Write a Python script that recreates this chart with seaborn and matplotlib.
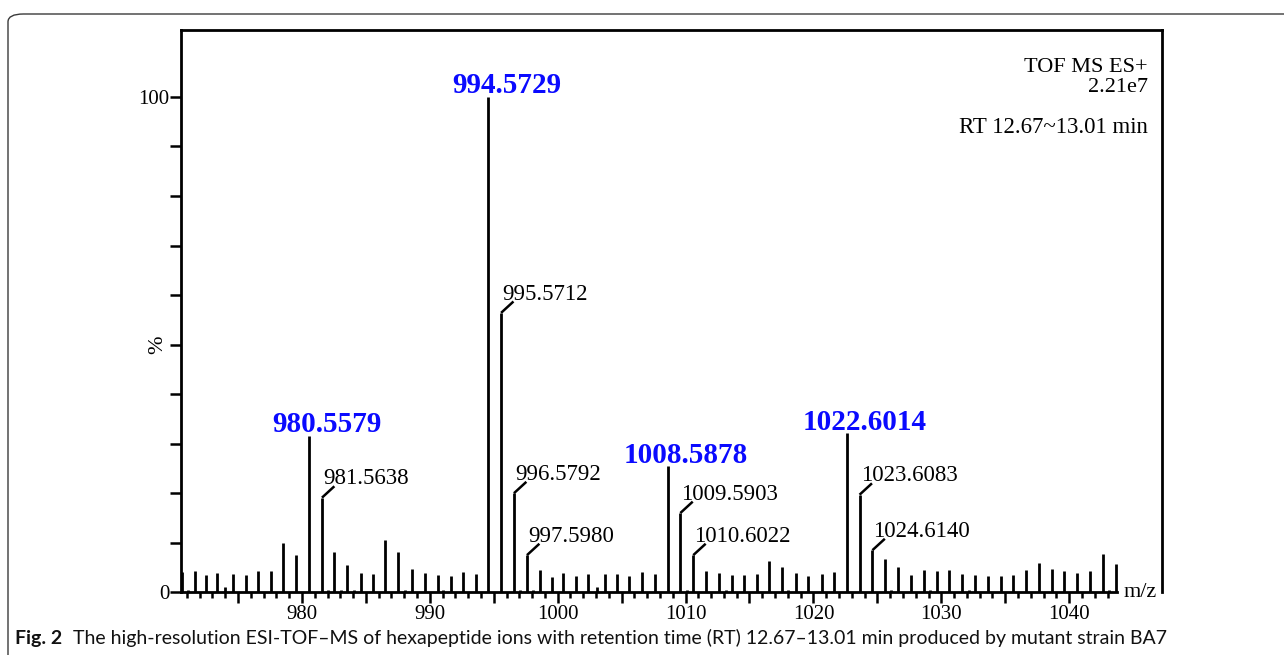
import numpy as np
import pandas as pd
import seaborn as sns
import matplotlib
matplotlib.use("Agg")
import matplotlib.pyplot as plt
from matplotlib.patches import FancyBboxPatch
from matplotlib.ticker import FuncFormatter

# ---- spectrum data (m/z, relative intensity %) ----
main_mz = [980.5579, 994.5729, 1008.5878, 1022.6014]
main_int = [31.6, 100.0, 25.4, 32.1]

iso_mz = [981.5638, 995.5712, 996.5792, 997.5980,
          1009.5903, 1010.6022, 1023.6083, 1024.6140]
iso_int = [19.1, 56.4, 20.0, 7.5, 16.0, 7.5, 19.7, 8.5]

bg_mz = [970.64, 971.63, 972.49, 973.33, 973.98, 974.63, 975.62, 976.59,
         977.58, 978.54, 979.53, 982.51, 983.54, 984.62, 985.58, 986.49,
         987.53, 988.63, 989.62, 990.62, 991.63, 992.62, 993.61, 998.62,
         999.53, 1000.44, 1001.41, 1002.39, 1003.05, 1003.70, 1004.66,
         1005.60, 1006.62, 1007.61, 1011.60, 1012.61, 1013.65, 1014.59,
         1015.61, 1016.55, 1017.56, 1018.64, 1019.60, 1020.65, 1021.63,
         1025.60, 1026.64, 1027.63, 1028.65, 1029.64, 1030.63, 1031.64,
         1032.63, 1033.63, 1034.65, 1035.63, 1036.62, 1037.64, 1038.63,
         1039.62, 1040.64, 1041.63, 1042.62, 1043.64,
         971.10, 982.02, 983.03, 984.05, 988.05, 991.05, 997.02, 998.05,
         1010.09, 1013.13, 1018.03, 1026.10, 1029.10, 1032.20, 1043.10]
bg_int = [4.0, 4.4, 3.4, 3.8, 1.1, 3.6, 3.5, 4.2,
          4.3, 10.0, 7.5, 8.2, 5.6, 3.8, 3.7, 10.6,
          8.1, 4.8, 3.8, 3.4, 3.3, 4.0, 3.7, 4.5,
          3.0, 3.8, 3.2, 3.7, 1.0, 3.7, 3.6,
          3.3, 4.0, 3.6, 4.3, 3.8, 3.5, 3.5,
          3.7, 6.4, 5.1, 3.8, 3.3, 3.7, 4.0,
          6.7, 5.1, 3.5, 4.5, 4.2, 4.5, 3.6,
          3.4, 3.2, 3.3, 3.4, 4.6, 6.0, 4.7,
          4.2, 3.8, 4.2, 7.7, 5.7,
          0.4, 0.4, 0.4, 0.4, 0.4, 0.4, 0.4, 0.4,
          0.4, 0.4, 0.5, 0.4, 0.4, 0.4, 0.4]

x_tick_labels = [980, 990, 1000, 1010, 1020, 1030, 1040]
info_lines = ["TOF MS ES+", "2.21e7", "RT 12.67~13.01 min"]
caption_bold = "Fig. 2"
caption_text = ("The high-resolution ESI-TOF\u2013MS of hexapeptide ions with retention "
                "time (RT) 12.67\u201313.01 min produced by mutant strain BA7")

spec = pd.DataFrame({
    "mz": main_mz + iso_mz + bg_mz,
    "intensity": main_int + iso_int + bg_int,
})

# ---- style ----
sns.set_theme(style="ticks")
plt.rcParams["font.family"] = ["Liberation Serif", "DejaVu Serif"]
plt.rcParams["axes.linewidth"] = 2.0

W, H = 1284, 655
fig = plt.figure(figsize=(W / 100, H / 100), dpi=100)
fig.patch.set_facecolor("white")

# rounded outer frame of the figure panel
frame = FancyBboxPatch((8 / W, -30 / H), (W + 40) / W, (H + 30 - 14) / H,
                       boxstyle="round,pad=0,rounding_size=0.012",
                       transform=fig.transFigure, fill=False,
                       edgecolor="#3a3a3a", linewidth=1.0, zorder=0)
fig.patches.append(frame)

ax_left, ax_right = 181 / W, 1162 / W
ax_bottom, ax_top = 1 - 592.3 / H, 1 - 30 / H
ax = fig.add_axes([ax_left, ax_bottom, ax_right - ax_left, ax_top - ax_bottom])
ax.set_facecolor("white")

x_min, x_max, x_axis_end = 970.54, 1047.26, 1043.74
y_max = 113.5
ax.set_xlim(x_min, x_max)
ax.set_ylim(0, y_max)

# stick spectrum
ax.vlines(spec["mz"], 0, spec["intensity"], color="black", linewidth=2.0,
          zorder=3)

# spines: full box except the m/z axis stops before the label
for s in ["left", "right", "top", "bottom"]:
    ax.spines[s].set_color("black")
    ax.spines[s].set_linewidth(2.0)
ax.spines["bottom"].set_bounds(x_min, x_axis_end)

# x ticks: every 1 (minor), every 5 (major), labels every 10
ax.set_xticks(list(np.arange(975, 1044, 5.0)))
ax.set_xticks(list(np.arange(971, 1044, 1.0)), minor=True)
ax.xaxis.set_major_formatter(FuncFormatter(
    lambda v, p: f"{int(round(v))}" if int(round(v)) in x_tick_labels else ""))
ax.tick_params(axis="x", which="major", direction="out", length=8, width=1.8,
               labelsize=15, pad=1, colors="black")
ax.tick_params(axis="x", which="minor", direction="out", length=4, width=1.8,
               colors="black")

# y ticks every 10 %, labelled at 0 and 100
ax.set_yticks(np.arange(0, 101, 10))
ax.set_yticklabels(["0"] + [""] * 9 + ["100"])
ax.tick_params(axis="y", direction="out", length=8, width=1.8, labelsize=15,
               pad=0.5, colors="black")
ax.set_ylabel("%", fontsize=16, color="black")
ax.yaxis.set_label_coords(-0.014, 50 / y_max)

ax.text(x_axis_end + 0.55, 0, "m/z", fontsize=16, ha="left", va="center",
        color="black", clip_on=False)

# main ion labels (blue, bold)
for mz, it in zip(main_mz, main_int):
    ax.text(mz + 1.42, it + 0.7, f"{mz:.4f}", color="#0a0aff",
            fontsize=21, fontweight="bold", ha="center", va="baseline",
            zorder=4)

# isotope labels with a short slanted leader
dx, dy = 0.97, 2.3
for mz, it in zip(iso_mz, iso_int):
    ax.plot([mz, mz + dx], [it, it + dy], color="black", linewidth=1.8,
            solid_capstyle="butt", zorder=3)
    ax.text(mz + 0.08, it + 2.7, f"{mz:.4f}", color="black", fontsize=16.5,
            ha="left", va="baseline", zorder=4)

# acquisition info
info_y = [0.926, 0.889, 0.817]
info_size = [16, 16, 16.5]
for txt, yy, fs in zip(info_lines, info_y, info_size):
    ax.text(0.9857, yy, txt, transform=ax.transAxes, fontsize=fs,
            ha="right", va="baseline", color="black")

# caption
renderer = fig.canvas.get_renderer()
cap_y = 1 - 644 / H
t1 = fig.text(15 / W, cap_y, caption_bold, fontsize=14, fontweight="bold",
              family=["Lato", "DejaVu Sans"], ha="left", va="baseline",
              color="#111111")
bb = t1.get_window_extent(renderer=renderer)
fig.text((bb.x1 + 11) / W, cap_y, caption_text, fontsize=14,
         family=["Lato", "DejaVu Sans"], ha="left", va="baseline",
         color="#111111")

fig.savefig("out.png", dpi=100, facecolor="white")
